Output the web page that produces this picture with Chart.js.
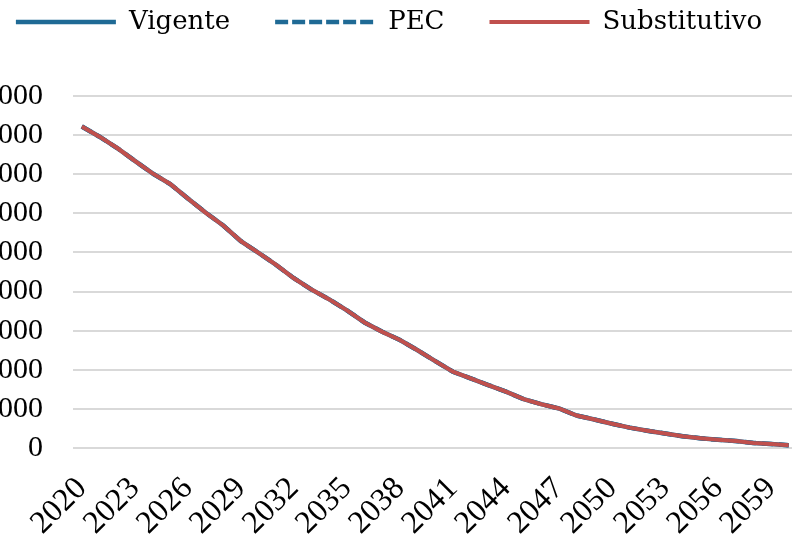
<!DOCTYPE html>
<html>
<head>
<meta charset="utf-8">
<script src="https://cdn.jsdelivr.net/npm/chart.js@4.4.1/dist/chart.umd.min.js"></script>
<style>
  html, body { margin: 0; padding: 0; background: #fff; overflow: hidden; }
  #wrap { position: absolute; left: -56px; top: 0; width: 894px; height: 541px; }
</style>
</head>
<body>
<div id="wrap"><canvas id="myChart"></canvas></div>
<script>
// years 2020..2060
const years = [];
for (let y = 2020; y <= 2060; ++y) years.push(String(y));

// values (all three series overlap)
const vigente = [8220, 7960, 7670, 7340, 7020, 6750, 6380, 6020, 5690, 5290,
  4990, 4680, 4340, 4050, 3800, 3520, 3210, 2970, 2760, 2500,
  2220, 1950, 1780, 1610, 1440, 1250, 1120, 1010, 830, 730,
  620, 520, 440, 370, 300, 250, 210, 180, 130, 100, 70];
const pec = [8220, 7960, 7670, 7340, 7020, 6750, 6380, 6020, 5690, 5290,
  4990, 4680, 4340, 4050, 3800, 3520, 3210, 2970, 2760, 2500,
  2220, 1950, 1780, 1610, 1440, 1250, 1120, 1010, 830, 730,
  620, 520, 440, 370, 300, 250, 210, 180, 130, 100, 70];
const substitutivo = [8220, 7960, 7670, 7340, 7020, 6750, 6380, 6020, 5690, 5290,
  4990, 4680, 4340, 4050, 3800, 3520, 3210, 2970, 2760, 2500,
  2220, 1950, 1780, 1610, 1440, 1250, 1120, 1010, 830, 730,
  620, 520, 440, 370, 300, 250, 210, 180, 130, 100, 70];

const Y_MAX = 9000;
const Y_STEP = 1000;
const BLUE = "#1f6a95";
const RED = "#c0504d";

// leave room under the legend, so the plot starts lower
const legendSpacer = {
  id: "legendSpacer",
  afterInit(chart) {
    const legend = chart.legend;
    const fit = legend.fit;
    legend.fit = function () {
      fit.call(this);
      this.height += 51;
    };
  },
};

drawChart();

function drawChart() {
  const ctx = document.getElementById("myChart");

  new Chart(ctx, {
    type: "line",
    plugins: [legendSpacer],
    data: {
      labels: years,
      datasets: [
        {
          label: "Vigente",
          data: vigente,
          borderColor: BLUE,
          backgroundColor: BLUE,
          borderWidth: 4.5,
          pointRadius: 0,
          order: 2,
        },
        {
          label: "PEC",
          data: pec,
          borderColor: BLUE,
          backgroundColor: BLUE,
          borderWidth: 4.5,
          borderDash: [11, 6],
          pointRadius: 0,
          order: 1,
        },
        {
          label: "Substitutivo",
          data: substitutivo,
          borderColor: RED,
          backgroundColor: RED,
          borderWidth: 4,
          pointRadius: 0,
          order: 0,
        },
      ],
    },
    options: {
      responsive: true,
      maintainAspectRatio: false,
      animation: false,
      layout: { padding: { top: -36, right: 10, left: 6, bottom: 0 } },
      plugins: {
        tooltip: { enabled: false },
        legend: {
          position: "top",
          labels: {
            boxWidth: 100,
            boxHeight: 0,
            padding: 45,
            color: "#000",
            font: { family: "DejaVu Serif", size: 26 },
            sort: (a, b) => a.datasetIndex - b.datasetIndex,
          },
        },
      },
      scales: {
        x: {
          offset: true,
          afterFit: function (scale) {
            scale.height = 93;
          },
          grid: { display: false, drawTicks: false },
          border: { display: false },
          ticks: {
            autoSkip: false,
            maxRotation: 45,
            minRotation: 45,
            padding: 22,
            color: "#000",
            font: { family: "Liberation Serif", size: 32 },
            callback: function (value, index) {
              return index % 3 === 0 ? this.getLabelForValue(value) : "";
            },
          },
        },
        y: {
          min: 0,
          max: Y_MAX,
          afterFit: function (scale) {
            scale.width = 123;
          },
          grid: { color: "#d9d9d9", lineWidth: 2, drawTicks: false },
          border: { display: false },
          ticks: {
            autoSkip: false,
            stepSize: Y_STEP,
            padding: 30,
            color: "#000",
            font: { family: "Liberation Serif", size: 30 },
          },
        },
      },
    },
  });
}
</script>
</body>
</html>
